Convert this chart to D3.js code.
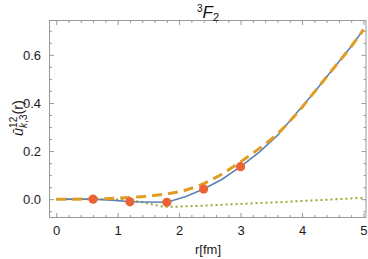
<!DOCTYPE html>
<html>
<head>
<meta charset="utf-8">
<script src="https://cdn.jsdelivr.net/npm/d3@7"></script>
<style>
  body { margin: 0; background: #fff; }
  svg { display: block; font-family: "Liberation Sans", Arial, sans-serif; }
  .tick text { fill: #1a1a1a; font-size: 13px; }
</style>
</head>
<body>
<svg id="chart" width="368" height="259"></svg>
<script>
// r grid of the curves
const rGrid = [0, 0.3, 0.6, 0.9, 1.2, 1.5, 1.8, 2.1, 2.4, 2.7, 3.0, 3.3, 3.6, 3.9, 4.2, 4.5, 4.8, 5.0];
// solid blue curve
const blueVals = [0, 0, 0, -0.004, -0.011, -0.012, -0.013, 0.01, 0.042, 0.083, 0.135, 0.195, 0.265, 0.355, 0.445, 0.54, 0.635, 0.705];
// dashed orange curve
const orangeVals = [0, 0, 0.001, 0.003, 0.007, 0.013, 0.022, 0.037, 0.065, 0.105, 0.155, 0.21, 0.272, 0.352, 0.445, 0.54, 0.635, 0.705];
// dotted green curve
const greenVals = [0, 0, 0, -0.001, -0.005, -0.018, -0.032, -0.03, -0.027, -0.023, -0.02, -0.016, -0.013, -0.009, -0.005, -0.001, 0.003, 0.006];
// red sample points
const pointR = [0.6, 1.2, 1.8, 2.4, 3.0];
const pointVals = [0, -0.011, -0.013, 0.042, 0.135];

const xMajor = [0, 1, 2, 3, 4, 5];
const yMajor = [0, 0.2, 0.4, 0.6];

const svg = d3.select('#chart');
const plotL = 49.5, plotR = 366, plotT = 20.5, plotB = 217.5;

const x = d3.scaleLinear().domain([-0.109, 5.041]).range([plotL, plotR]);
const y = d3.scaleLinear().domain([-0.0763, 0.743]).range([plotB, plotT]);

const xMinor = d3.range(0, 5.01, 0.2).filter(v => Math.abs(v - Math.round(v)) > 1e-6);
const yMinor = d3.range(-0.05, 0.741, 0.05).filter(v => Math.abs(v / 0.2 - Math.round(v / 0.2)) > 1e-6);

function drawAxis(axis, tx, ty) {
  const g = svg.append('g').attr('transform', `translate(${tx},${ty})`).call(axis);
  g.select('.domain').remove();
  g.selectAll('.tick line').attr('stroke', '#999');
  return g;
}

// major + minor ticks on all four sides, ticks pointing inward
drawAxis(d3.axisBottom(x).tickValues(xMajor).tickFormat(d3.format('d')).tickSize(-4.5).tickPadding(8), 0, plotB);
drawAxis(d3.axisBottom(x).tickValues(xMinor).tickFormat('').tickSize(-2.5), 0, plotB);
drawAxis(d3.axisTop(x).tickValues(xMajor).tickFormat('').tickSize(-4.5), 0, plotT);
drawAxis(d3.axisTop(x).tickValues(xMinor).tickFormat('').tickSize(-2.5), 0, plotT);
drawAxis(d3.axisLeft(y).tickValues(yMajor).tickFormat(d3.format('.1f')).tickSize(-4.5).tickPadding(8.5), plotL, 0);
drawAxis(d3.axisLeft(y).tickValues(yMinor).tickFormat('').tickSize(-2.5), plotL, 0);
drawAxis(d3.axisRight(y).tickValues(yMajor).tickFormat('').tickSize(-4.5), plotR, 0);
drawAxis(d3.axisRight(y).tickValues(yMinor).tickFormat('').tickSize(-2.5), plotR, 0);

svg.append('rect')
  .attr('x', plotL).attr('y', plotT)
  .attr('width', plotR - plotL).attr('height', plotB - plotT)
  .attr('fill', 'none').attr('stroke', '#999').attr('stroke-width', 1);

svg.append('clipPath').attr('id', 'plotclip')
  .append('rect').attr('x', plotL).attr('y', plotT).attr('width', plotR - plotL).attr('height', plotB - plotT);

const line = d3.line().x(d => x(d[0])).y(d => y(d[1]));
const plot = svg.append('g').attr('clip-path', 'url(#plotclip)');

plot.append('path')
  .datum(d3.zip(rGrid, greenVals))
  .attr('d', line.curve(d3.curveMonotoneX))
  .attr('fill', 'none').attr('stroke', '#8fb032').attr('stroke-width', 2)
  .attr('stroke-dasharray', '2,3');

plot.append('path')
  .datum(d3.zip(rGrid, blueVals))
  .attr('d', line.curve(d3.curveLinear))
  .attr('fill', 'none').attr('stroke', '#5e81b5').attr('stroke-width', 1.6);

plot.append('path')
  .datum(d3.zip(rGrid, orangeVals))
  .attr('d', line.curve(d3.curveMonotoneX))
  .attr('fill', 'none').attr('stroke', '#e19c24').attr('stroke-width', 3)
  .attr('stroke-dasharray', '10,6');

plot.selectAll('circle')
  .data(d3.zip(pointR, pointVals))
  .enter()
  .append('circle')
  .attr('cx', d => x(d[0]))
  .attr('cy', d => y(d[1]))
  .attr('r', 4.6)
  .attr('fill', '#eb6235');

// title
const title = svg.append('text')
  .attr('x', 208).attr('y', 18).attr('text-anchor', 'middle').attr('fill', '#111');
title.append('tspan').attr('font-size', 10).attr('dy', -6).text('3');
title.append('tspan').attr('font-size', 17).attr('font-style', 'italic').attr('dy', 6).text('F');
title.append('tspan').attr('font-size', 11).attr('dy', 3).text('2');

// x label
svg.append('text')
  .attr('x', 208).attr('y', 254).attr('text-anchor', 'middle')
  .attr('font-size', 13).attr('fill', '#1a1a1a')
  .text('r[fm]');

// y label, rotated, with stacked super/subscripts
const yl = svg.append('text')
  .attr('transform', 'translate(23,118) rotate(-90)')
  .attr('text-anchor', 'middle').attr('font-size', 14.5).attr('fill', '#1a1a1a');
yl.append('tspan').attr('font-style', 'italic').text('ū');
const sup = yl.append('tspan').attr('font-size', 10).attr('dy', -6).text('12');
const supW = sup.node().getComputedTextLength();
yl.append('tspan').attr('font-size', 10).attr('font-style', 'italic').attr('dx', -supW).attr('dy', 10).text('k');
yl.append('tspan').attr('font-size', 10).text(',3');
yl.append('tspan').attr('dy', -4).text('(r)');
</script>
</body>
</html>
